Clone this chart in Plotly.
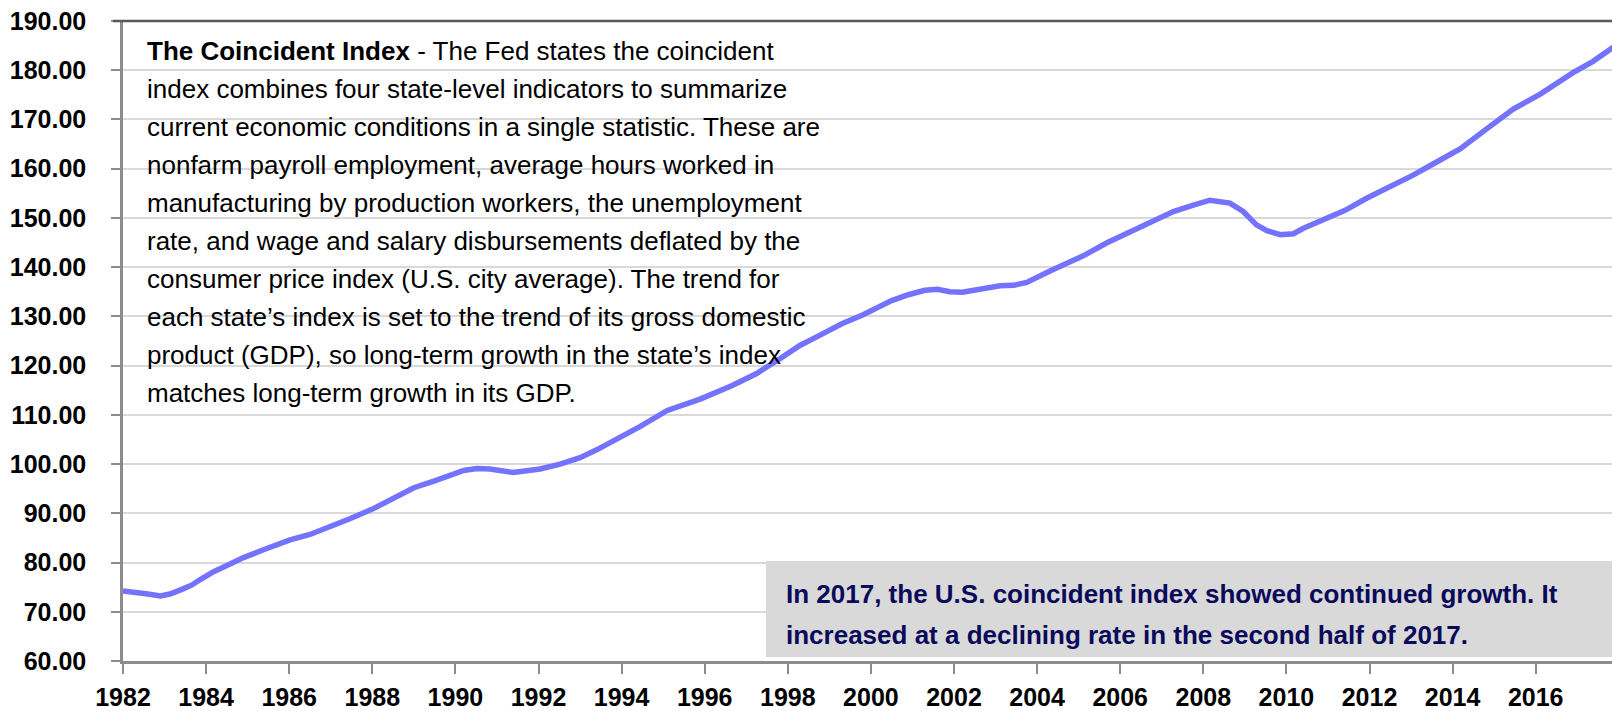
import plotly.graph_objects as go

# Coincident index readings (decimal year, index value)
years = [1982.00, 1982.33, 1982.60, 1982.90, 1983.13, 1983.40, 1983.65, 1983.85,
         1984.17, 1984.50, 1984.90, 1985.38, 1986.02, 1986.50, 1986.98, 1987.46,
         1987.99, 1988.50, 1989.00, 1989.50, 1989.90, 1990.20, 1990.51, 1990.83,
         1991.39, 1991.70, 1992.04, 1992.52, 1993.00, 1993.40, 1993.80, 1994.44,
         1995.10, 1995.89, 1996.65, 1997.25, 1997.81, 1998.29, 1998.80, 1999.30,
         1999.80, 2000.20, 2000.50, 2000.90, 2001.30, 2001.60, 2001.90, 2002.20,
         2002.60, 2003.11, 2003.43, 2003.75, 2004.31, 2005.11, 2005.67, 2006.32,
         2006.72, 2007.28, 2007.76, 2008.16, 2008.64, 2008.96, 2009.28, 2009.53,
         2009.85, 2010.17, 2010.41, 2010.81, 2011.40, 2011.93, 2012.25, 2013.05,
         2013.54, 2014.18, 2014.82, 2015.46, 2016.10, 2016.90, 2017.38, 2017.82,
         2017.92]
index_values = [74.2, 74.0, 73.6, 73.2, 73.6, 74.5, 75.4, 76.5,
                78.1, 79.4, 81.0, 82.6, 84.6, 85.7, 87.2, 88.9,
                90.8, 93.0, 95.2, 96.6, 97.8, 98.7, 99.1, 99.0,
                98.3, 98.6, 99.0, 100.0, 101.3, 102.9, 104.7, 107.6,
                110.9, 113.2, 115.9, 118.4, 121.4, 124.1, 126.3, 128.5,
                130.3, 132.0, 133.2, 134.4, 135.3, 135.5, 135.0, 134.9,
                135.5, 136.2, 136.3, 136.9, 139.2, 142.3, 144.9, 147.6,
                149.0, 151.3, 152.6, 153.6, 153.0, 151.3, 148.6, 147.4,
                146.6, 146.8, 147.9, 149.3, 151.5, 154.0, 155.3, 158.7,
                161.0, 164.0, 168.1, 172.1, 175.1, 179.5, 181.8, 184.5,
                185.0]

tick_years = list(range(1982, 2017, 2))
tick_labels = [str(y) for y in tick_years]
y_ticks = list(range(60, 191, 10))
y_labels = [f"{v:.2f}" for v in y_ticks]

body_lines = [
    "<b>The Coincident Index</b> - The Fed states the coincident",
    "index combines four state-level indicators to summarize",
    "current economic conditions in a single statistic. These are",
    "nonfarm payroll employment, average hours worked in",
    "manufacturing by production workers, the unemployment",
    "rate, and wage and salary disbursements deflated by the",
    "consumer price index (U.S. city average). The trend for",
    "each state\u2019s index is set to the trend of its gross domestic",
    "product (GDP), so long-term growth in the state\u2019s index",
    "matches long-term growth in its GDP.",
]
box_lines = [
    "In 2017, the U.S. coincident index showed continued growth. It",
    "increased at a declining rate in the second half of 2017.",
]

W, H = 1612, 711
L, T, B, R = 123, 21, 44, 0
PW, PH = W - L - R, H - T - B

def px_x(x):
    return (x - L) / PW

def px_y(y):
    return (H - B - y) / PH

FONT = "Liberation Sans, Arial, sans-serif"

fig = go.Figure()
fig.add_trace(go.Scatter(
    x=years, y=index_values, mode="lines",
    line=dict(color="#7373ff", width=5.5),
    hoverinfo="skip", showlegend=False,
))

annotations = []
for i, txt in enumerate(body_lines):
    annotations.append(dict(
        x=px_x(145), y=px_y(51.5 + i * 38.3), xref="paper", yref="paper",
        xanchor="left", yanchor="middle", text=txt, showarrow=False,
        font=dict(family=FONT, size=26, color="#000000"), align="left",
    ))
for i, txt in enumerate(box_lines):
    annotations.append(dict(
        x=px_x(784), y=px_y(599 + i * 42), xref="paper", yref="paper",
        xanchor="left", yanchor="middle", text="<b>" + txt + "</b>", showarrow=False,
        font=dict(family=FONT, size=26, color="#0a0a5a"), align="left",
    ))

shapes = [
    dict(type="rect", xref="paper", yref="paper",
         x0=px_x(766), x1=1.0, y0=px_y(663), y1=px_y(566),
         fillcolor="#d9d9d9", line=dict(width=0), layer="above"),
    dict(type="line", xref="paper", yref="paper",
         x0=px_x(113), x1=1.0, y0=1.0, y1=1.0,
         line=dict(color="#595959", width=2.5), layer="above"),
]

fig.update_layout(
    width=W, height=H,
    margin=dict(l=L, r=R, t=T, b=B, pad=0),
    paper_bgcolor="white", plot_bgcolor="white",
    showlegend=False,
    annotations=annotations, shapes=shapes,
    xaxis=dict(
        range=[1982, 1982 + PW / 41.55], tickmode="array",
        tickvals=tick_years, ticktext=tick_labels,
        showgrid=False, zeroline=False,
        showline=True, linecolor="#8c8c8c", linewidth=2.5,
        ticks="outside", ticklen=10, tickwidth=2, tickcolor="#8c8c8c",
        tickfont=dict(family=FONT, size=25, color="#000000", weight="bold"),
        ticklabelstandoff=2, ticklabeloverflow="allow",
    ),
    yaxis=dict(
        range=[60, 190], tickmode="array", tickvals=y_ticks, ticktext=y_labels,
        showgrid=True, gridcolor="#d9d9d9", gridwidth=2,
        zeroline=False,
        showline=True, linecolor="#8c8c8c", linewidth=2.5,
        ticks="outside", ticklen=9, tickwidth=2, tickcolor="#8c8c8c",
        tickfont=dict(family=FONT, size=25, color="#000000", weight="bold"),
        ticklabelstandoff=20, ticklabeloverflow="allow",
    ),
)

# Remove the browser's default 8px body margin so the figure fills the window exactly.
fig.write_html(
    "out.html",
    config={"displayModeBar": False},
    post_script="document.body.style.margin='0';",
)
